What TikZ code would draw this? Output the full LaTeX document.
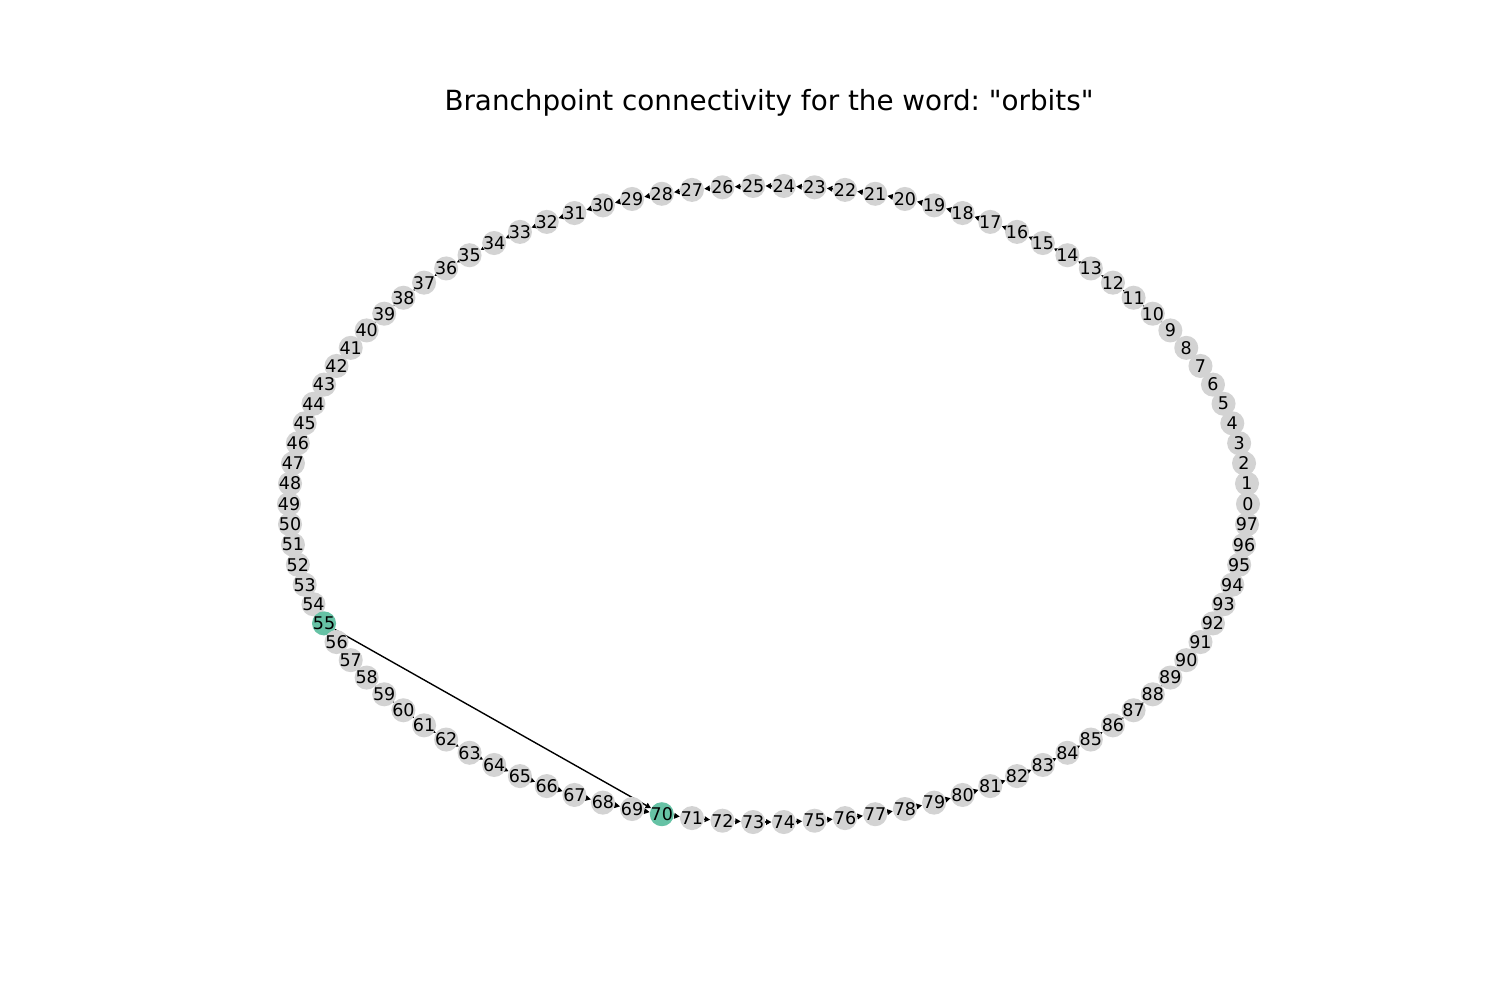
\documentclass[tikz,border=0pt]{standalone}
\usepackage{graphicx}
\usepackage{fontspec}
\setmainfont{DejaVu Sans}
\usetikzlibrary{arrows.meta}
\pgfdeclarelayer{background}
\pgfsetlayers{background,main}
\definecolor{nodegrey}{HTML}{D3D3D3}
\definecolor{nodegreen}{HTML}{66C2A5}
\newcommand\straightq{\XeTeXglyph\the\XeTeXcharglyph"22\relax}
\frenchspacing
\begin{document}
\begin{tikzpicture}[x=0.72pt,y=-0.72pt,
  vert/.style={circle,draw=none,minimum size=17.32pt,inner sep=0pt},
  lbl/.style={inner sep=0pt,font=\fontsize{12.6}{14}\selectfont},
  edge/.style={-{Triangle[length=4pt,width=4pt]},line width=1pt,black}]
\useasboundingbox (0,0) rectangle (1500,1000);
\node[inner sep=0pt] (title) at (769,103) {\fontsize{20}{24}\selectfont Branchpoint connectivity for the word: \straightq orbits\straightq};
\foreach \i in {0,...,97}{
  \pgfmathsetmacro\ang{\i*3.673469}
  \ifnum\i=55 \def\vcol{nodegreen}\else\ifnum\i=70 \def\vcol{nodegreen}\else\def\vcol{nodegrey}\fi\fi
  \node[vert,fill=\vcol] (n\i) at ({768.5+479.5*cos(\ang)},{504-318.2*sin(\ang)}) {};
}
\foreach \i in {0,...,97}{
  \node[lbl] (l\i) at (n\i) {\i};
}
\begin{pgfonlayer}{background}
\foreach \i [evaluate=\i as \j using int(\i+1)] in {0,...,96}{
  \draw[edge] (n\i) -- (n\j);
}
\draw[edge] (n55) -- (n70);
\end{pgfonlayer}
\end{tikzpicture}
\end{document}
